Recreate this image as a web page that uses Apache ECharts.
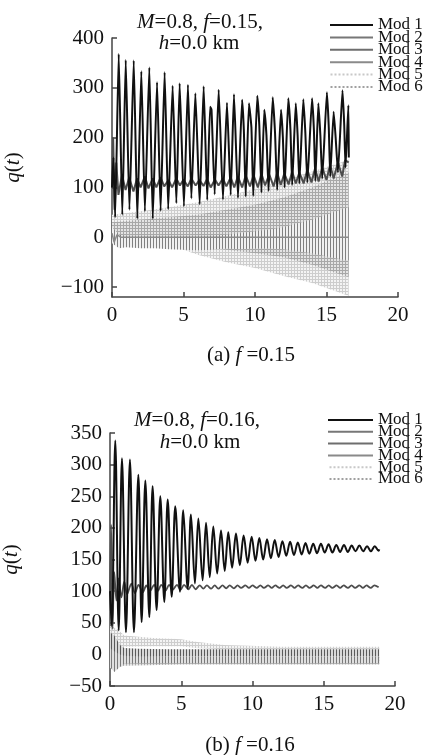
<!DOCTYPE html>
<html><head><meta charset="utf-8">
<script src="https://cdn.jsdelivr.net/npm/echarts@6/dist/echarts.min.js"></script>
<style>html,body{margin:0;padding:0;background:#fff}#c{width:427px;height:755px}</style>
</head><body><div id="c"></div><script>
// ---------- DATA ----------
const seriesNames = ['Mod 1','Mod 2','Mod 3','Mod 4','Mod 5','Mod 6'];
const xTicks = [0,5,10,15,20];
const yTicksTop = [-100,0,100,200,300,400];
const yTicksBot = [-50,0,50,100,150,200,250,300,350];

// (a) f = 0.15 : [t, q] turning points
const mod1Top = [[0,100],[0.1,160],[0.22,40],[0.47,368],[0.72,45],[0.96,356],[1.22,55],[1.52,355],[1.77,37],[2.05,333],[2.3,52],[2.61,341],[2.85,37],[3.15,311],[3.4,53],[3.68,331],[3.93,56],[4.24,304],[4.5,68],[4.73,309],[5.03,62],[5.31,306],[5.55,78],[5.83,289],[6.13,66],[6.41,303],[6.66,75],[6.86,262],[6.96,256],[7.18,86],[7.46,296],[7.76,76],[8.04,270],[8.3,85],[8.53,287],[8.81,79],[9.1,276],[9.22,215],[9.35,82],[9.58,269],[9.75,220],[9.88,83],[10.16,284],[10.3,225],[10.45,90],[10.65,256],[10.8,205],[10.95,93],[11.24,281],[11.4,210],[11.55,95],[11.82,256],[11.95,200],[12.07,100],[12.33,279],[12.48,215],[12.6,105],[12.85,269],[12.98,205],[13.1,108],[13.38,277],[13.52,210],[13.66,110],[13.99,279],[14.12,215],[14.22,113],[14.43,269],[14.57,205],[14.7,118],[15.03,291],[15.16,220],[15.26,122],[15.5,252],[15.64,200],[15.8,130],[16.12,295],[16.24,225],[16.33,140],[16.53,265],[16.56,160]];
const mod2Top = [[0,100],[0.08,200],[0.18,55],[0.3,150],[0.45,85],[0.7,125],[0.95,95],[1.2,120],[1.5,92],[1.75,118],[2.0,100],[2.3,122],[2.55,98],[2.85,118],[3.1,100],[3.4,120],[3.65,102],[3.95,115],[4.2,100],[4.5,118],[4.75,104],[5.0,116],[5.3,102],[5.55,118],[5.85,104],[6.1,115],[6.4,103],[6.65,117],[6.9,100],[7.2,116],[7.45,104],[7.75,118],[8.0,102],[8.3,120],[8.55,100],[8.8,122],[9.1,100],[9.35,124],[9.65,102],[9.9,125],[10.2,100],[10.45,128],[10.7,104],[11.0,126],[11.3,102],[11.55,130],[11.8,105],[12.05,128],[12.35,106],[12.6,132],[12.85,108],[13.1,130],[13.4,108],[13.65,135],[13.95,110],[14.2,138],[14.45,112],[14.7,140],[15.0,115],[15.25,145],[15.5,118],[15.8,150],[16.1,122],[16.3,155],[16.55,150]];
const mod4Top = [[0,8],[0.15,-10],[0.35,5],[0.6,0],[16.55,0]];
// envelopes of fast oscillations: [t, low, high]
const mod3Top = [[0,-12,20],[0.5,-22,5],[1,-20,2],[2,-22,2],[3,-22,2],[4,-24,2],[5,-25,2],[6,-26,2],[7,-25,3],[8,-22,5],[9,-24,8],[10,-22,12],[11,-22,15],[12,-24,20],[13,-28,28],[14,-32,35],[15,-38,45],[16,-44,55],[16.55,-46,60]];
const mod5Top = [[0,0,45],[2,-5,52],[4,-15,60],[6,-35,70],[8,-50,83],[10,-62,97],[12,-78,115],[14,-92,132],[16,-112,150],[16.55,-118,156]];
const mod6Top = [[0,-5,30],[2,-8,35],[4,-12,40],[6,-18,45],[8,-25,55],[10,-32,65],[12,-40,80],[14,-55,100],[16,-75,125],[16.55,-80,130]];

// (b) f = 0.16
const mod1Bot = [[0,100],[0.12,45],[0.37,338],[0.61,38],[0.84,310],[1.12,35],[1.40,308],[1.68,35],[1.99,284],[2.22,51],[2.48,275],[2.76,59],[2.99,266],[3.27,70],[3.53,250],[3.81,83],[4.05,245],[4.33,91],[4.58,234],[4.91,99],[5.14,228],[5.45,104],[5.68,221],[5.96,112],[6.2,215],[6.5,117],[6.74,208],[7.0,122],[7.25,202],[7.52,128],[7.79,196],[8.05,132],[8.3,193],[8.57,137],[8.84,191],[9.11,141],[9.38,188],[9.66,145],[9.94,186],[10.21,148],[10.48,184],[10.75,150],[11.02,182],[11.29,152],[11.56,181],[11.83,154],[12.1,179],[12.37,156],[12.64,178],[12.91,157],[13.18,177],[13.45,158],[13.72,176],[13.99,159],[14.26,175],[14.53,160],[14.8,175],[15.07,161],[15.34,174],[15.61,161],[15.88,173],[16.15,162],[16.42,173],[16.69,162],[16.96,172],[17.23,163],[17.5,172],[17.77,163],[18.04,171],[18.31,163],[18.58,171],[18.85,164],[18.9,166]];
const mod2Bot = [[0,100],[0.08,205],[0.18,40],[0.3,130],[0.45,85],[0.6,120],[0.8,90],[1.0,115],[1.2,95],[1.5,112],[1.75,97],[2.0,110],[2.3,98],[2.55,109],[2.8,100],[3.1,110],[3.35,100],[3.6,110],[3.9,101],[4.15,110],[4.4,102],[4.7,110],[4.95,102],[5.2,110],[5.5,103],[5.75,110],[6.0,103],[6.3,109],[6.55,104],[6.8,109],[7.1,104],[7.35,109],[7.6,104],[7.9,109],[8.15,104.5],[8.4,109],[8.7,104.5],[8.95,109],[9.2,105],[9.5,109],[9.75,105],[10.0,109],[10.3,105],[10.55,109],[10.8,105],[11.1,109],[11.35,105],[11.6,109],[11.9,105],[12.15,109],[12.4,105],[12.7,109],[12.95,105],[13.2,109],[13.5,105],[13.75,109],[14.0,105],[14.3,109],[14.55,105],[14.8,109],[15.1,105],[15.35,109],[15.6,105],[15.9,109],[16.15,105],[16.4,109],[16.7,105],[16.95,109],[17.2,105],[17.5,109],[17.75,105],[18.0,109],[18.3,105],[18.55,109],[18.85,106]];
const mod3Bot = [[0,-10,35],[0.3,-25,30],[0.7,-12,15],[1,-6,10],[2,-4,9],[4,-3,8],[8,-3,8],[12,-3,8],[18.9,-3,8]];
const mod4Bot = [[0,-20,10],[0.3,-28,5],[0.7,-20,0],[1,-15,-2],[2,-14,-3],[5,-14,-4],[10,-14,-4],[18.9,-14,-4]];
const mod5Bot = [[0,5,45],[0.5,10,40],[1,12,30],[3,13,26],[5,13,24],[6,10,20],[8,8,15],[12,8,12],[18.9,8,12]];
const mod6Bot = [[0,-22,0],[1,-18,0],[5,-16,-2],[18.9,-16,-2]];

// ---------- STYLE ----------
const FONT = 'Liberation Serif';
const C = {m1:'#111111', m2:'#4d4d4d', m3:'#6e6e6e', m4:'#8a8a8a', m5:'#cfcfcf', m6:'#a9a9a9', axis:'#444444'};

function pattern(bg, line, step, both) {
  const c = document.createElement('canvas');
  c.width = step; c.height = step;
  const g = c.getContext('2d');
  g.fillStyle = bg; g.fillRect(0,0,step,step);
  g.fillStyle = line;
  g.fillRect(0,0,1,step);
  if (both) g.fillRect(0,0,step,1);
  return {image:c, repeat:'repeat'};
}
const patLight = pattern('#f4f4f4', '#cdcdcd', 3, true);
const patMid = pattern('#e4e4e4', '#a8a8a8', 3, true);
const patStreak = pattern('#f0f0f0', '#808080', 3, false);
const patStreakDark = pattern('#d8d8d8', '#5a5a5a', 3, false);
const patStreak2 = pattern('#e0e0e0', '#7a7a7a', 3, false);

function band(name, rows, idx, fill, color, z) {
  return {
    type:'custom', name, xAxisIndex:idx, yAxisIndex:idx, z, clip:true, silent:true,
    itemStyle:{color}, data: rows, encode:{x:0, y:[1,2]},
    renderItem(params, api) {
      if (params.dataIndex !== 0) return;
      const up = rows.map(r => api.coord([r[0], r[2]]));
      const lo = rows.map(r => api.coord([r[0], r[1]])).reverse();
      return {type:'polygon', shape:{points: up.concat(lo)}, style:{fill, stroke:null}};
    }
  };
}
function line(name, data, idx, color, width, smooth, z) {
  return {type:'line', name, data, xAxisIndex:idx, yAxisIndex:idx, showSymbol:false, symbol:'none',
    smooth, z, silent:true, itemStyle:{color}, lineStyle:{color, width}};
}
function xAxis(idx) {
  return {gridIndex:idx, type:'value', min:0, max:20, interval:5,
    axisLine:{onZero:false, lineStyle:{color:C.axis, width:1.5}},
    axisTick:{inside:true, length:5, lineStyle:{color:C.axis, width:1.5}},
    axisLabel:{color:'#111', fontFamily:FONT, fontSize:21, margin:8},
    splitLine:{show:false}};
}
const neg = v => String(v).replace('-', '\u2212');
function yAxis(idx, min, max, ticks) {
  return {gridIndex:idx, type:'value', min, max,
    axisLine:{show:true, onZero:false, lineStyle:{color:C.axis, width:1.5}},
    axisTick:{show:true, inside:true, length:5, customValues:ticks, lineStyle:{color:C.axis, width:1.5}},
    axisLabel:{customValues:ticks, formatter:neg, color:'#111', fontFamily:FONT, fontSize:21, margin:8},
    splitLine:{show:false},
    name:'{i|q}({i|t})', nameLocation:'middle', nameRotate:90, nameGap:88,
    nameTextStyle:{color:'#111', fontFamily:FONT, fontSize:21,
      rich:{i:{fontStyle:'italic', fontFamily:FONT, fontSize:21, color:'#111'}}}};
}
function dashPath() {
  let p = 'path://';
  for (let i = 0; i < 11; i++) p += 'M' + (i*4) + ' 0h2v2h-2z';
  return p;
}
function legend(left, top, w, gap) {
  return {orient:'vertical', left, top, itemWidth:w, itemHeight:2, itemGap:gap, padding:0,
    selectedMode:false,
    textStyle:{fontFamily:FONT, fontSize:17, color:'#111'},
    data:[
      {name:seriesNames[0], icon:'rect', itemStyle:{color:C.m1}},
      {name:seriesNames[1], icon:'rect', itemStyle:{color:'#777'}},
      {name:seriesNames[2], icon:'rect', itemStyle:{color:C.m3}},
      {name:seriesNames[3], icon:'rect', itemStyle:{color:C.m4}},
      {name:seriesNames[4], icon:dashPath(), itemStyle:{color:'#c8c8c8'}},
      {name:seriesNames[5], icon:dashPath(), itemStyle:{color:'#a0a0a0'}}
    ]};
}
const italic = {i:{fontStyle:'italic', fontFamily:FONT, fontSize:21, fill:'#111'}};
function label(text, x, y) {
  return {type:'text', x, y, silent:true,
    style:{text, rich:italic, fontFamily:FONT, fontSize:21, fill:'#111', align:'center', verticalAlign:'middle'}};
}

const chart = echarts.init(document.getElementById('c'), null, {renderer:'canvas'});
chart.setOption({
  animation:false,
  backgroundColor:'#fff',
  grid:[
    {left:112, top:38, right:29, height:259, outerBoundsMode:'none', containLabel:false},
    {left:110, top:433, right:32, height:253, outerBoundsMode:'none', containLabel:false}
  ],
  xAxis:[xAxis(0), xAxis(1)],
  yAxis:[yAxis(0,-120,400,yTicksTop), yAxis(1,-50,350,yTicksBot)],
  legend:[legend(330,16.5,43,-4.6), legend(328,411.5,45,-5.2)],
  graphic:[
    label('{i|M}=0.8, {i|f}=0.15,', 200, 22),
    label('{i|h}=0.0 km', 199, 43),
    label('(a) {i|f} =0.15', 251, 355),
    label('{i|M}=0.8, {i|f}=0.16,', 197, 420),
    label('{i|h}=0.0 km', 200, 442),
    label('(b) {i|f} =0.16', 250, 745)
  ],
  series:[
    band(seriesNames[4], mod5Top, 0, patLight, C.m5, 1),
    band(seriesNames[5], mod6Top, 0, patMid, C.m6, 2),
    band(seriesNames[2], mod3Top, 0, patStreak, C.m3, 3),
    line(seriesNames[3], mod4Top, 0, C.m4, 1.5, false, 4),
    line(seriesNames[1], mod2Top, 0, C.m2, 2, false, 5),
    line(seriesNames[0], mod1Top, 0, C.m1, 2, 0.15, 6),

    band(seriesNames[4], mod5Bot, 1, patLight, C.m5, 1),
    band(seriesNames[5], mod6Bot, 1, patMid, C.m6, 2),
    band(seriesNames[2], mod3Bot, 1, patStreakDark, C.m3, 3),
    band(seriesNames[3], mod4Bot, 1, patStreak2, C.m4, 3),
    line(seriesNames[1], mod2Bot, 1, C.m2, 1.8, 0.3, 5),
    line(seriesNames[0], mod1Bot, 1, C.m1, 2, 0.35, 6)
  ]
});
</script></body></html>
